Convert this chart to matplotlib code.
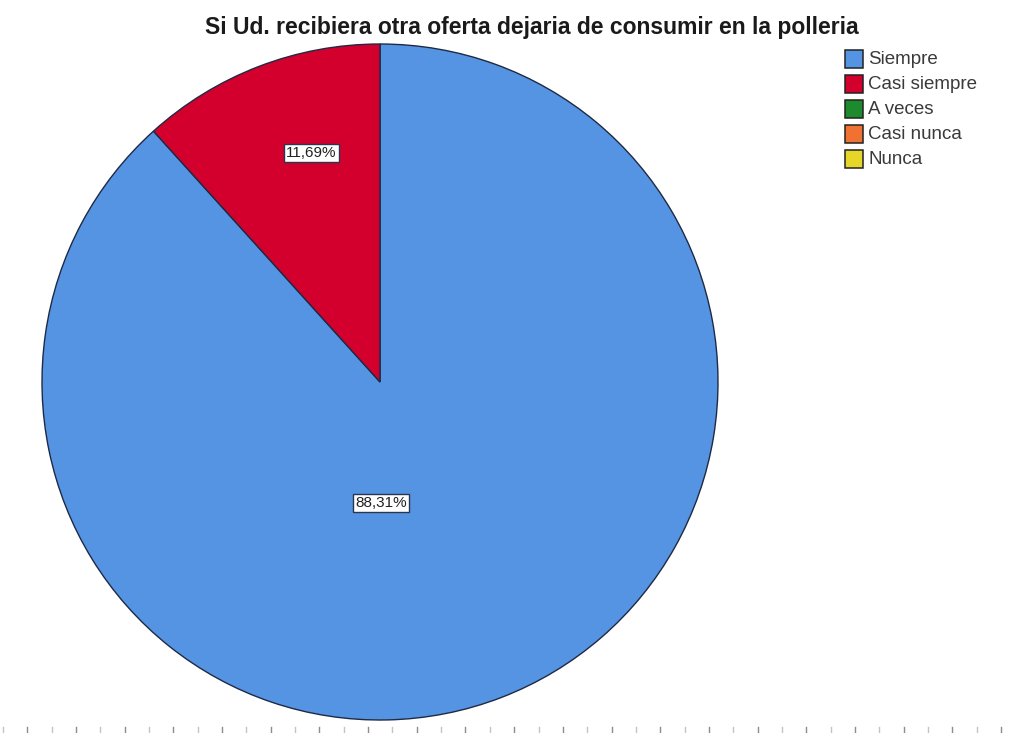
import numpy as np
import matplotlib
matplotlib.use("Agg")
import matplotlib.pyplot as plt
from matplotlib.patches import Rectangle

# Survey answers and their shares (%)
categories = ["Siempre", "Casi siempre", "A veces", "Casi nunca", "Nunca"]
shares = [88.31, 11.69, 0.0, 0.0, 0.0]
colors = ["#5594E3", "#D3002E", "#1E8A2E", "#F07232", "#E6D62A"]
title = "Si Ud. recibiera otra oferta dejaria de consumir en la polleria"

plt.rcParams["font.family"] = ["Liberation Sans", "DejaVu Sans"]

W, H = 1016, 733
fig = plt.figure(figsize=(W / 100, H / 100), dpi=100)
fig.patch.set_facecolor("white")

# pie axes: circle centred at (380, 382) px with radius 338 px
cx, cy, r = 380, 382, 338
ax = fig.add_axes([(cx - r) / W, (H - cy - r) / H, 2 * r / W, 2 * r / H])

vals = [v for v in shares if v > 0]
cols = [c for v, c in zip(shares, colors) if v > 0]
wedges, _ = ax.pie(vals, colors=cols, startangle=90, counterclock=False,
                   radius=1.0, center=(0, 0),
                   wedgeprops=dict(edgecolor="#1E2A44", linewidth=1.0))
ax.set_xlim(-1, 1)
ax.set_ylim(-1, 1)
ax.set_aspect("equal")
ax.axis("off")

# percentage labels with boxed white background
label_pos = [(0.003, -0.358), (-0.204, 0.678)]
for v, pos in zip(vals, label_pos):
    ax.text(pos[0], pos[1], f"{v:.2f}%".replace(".", ","),
            ha="center", va="center", fontsize=11, color="#222222",
            bbox=dict(boxstyle="square,pad=0.15", facecolor="white",
                      edgecolor="#2a3550", linewidth=1.0))

# overlay axes in pixel coordinates for title, legend and bottom ticks
ov = fig.add_axes([0, 0, 1, 1], zorder=5)
ov.set_xlim(0, W)
ov.set_ylim(H, 0)
ov.axis("off")
ov.patch.set_alpha(0)

ov.text(532, 34, title, ha="center", va="baseline", fontsize=16.5,
        fontweight="bold", color="#1a1a1a")

row0, step = 58.5, 25
for i, (cat, col) in enumerate(zip(categories, colors)):
    y = row0 + i * step
    ov.add_patch(Rectangle((845, y - 9), 18, 18, facecolor=col,
                           edgecolor="#222222", linewidth=1.1))
    ov.text(868, y + 1, cat, ha="left", va="center", fontsize=13.5,
            color="#3a3a3a")

for k, x in enumerate(np.arange(2.8, W, 24.35)):
    ov.plot([x, x], [727, 733], color="#8c8c8c" if k % 2 else "#c4c4c4",
            linewidth=1.0)

fig.savefig("out.png", dpi=100, facecolor="white")
